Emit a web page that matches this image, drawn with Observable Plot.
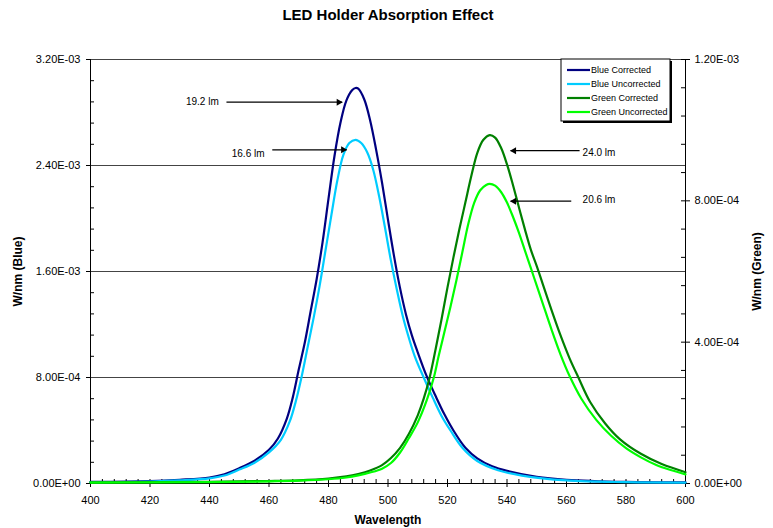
<!DOCTYPE html>
<html>
<head>
<meta charset="utf-8">
<script src="https://cdn.jsdelivr.net/npm/d3@7"></script>
<script src="https://cdn.jsdelivr.net/npm/@observablehq/plot@0.6"></script>
<style>
  body { margin: 0; background: #fff; }
  #chart svg { font-family: "Liberation Sans", Arial, sans-serif; }
</style>
</head>
<body>
<div id="chart"></div>
<script>
// ---------- data ----------
const seriesNames = ["Blue Corrected", "Blue Uncorrected", "Green Corrected", "Green Uncorrected"];
const seriesColors = ["#000080", "#00CCFF", "#008000", "#00FF00"];
const seriesAxis = ["left", "left", "right", "right"];

// Blue Corrected (W/nm, left axis)
const blueCorrWl  = [400, 420, 430, 440, 445, 450, 455, 460, 463, 466, 468, 470, 472, 474, 476, 478, 480, 482, 484, 486, 488, 489.1, 490, 492, 494, 496, 498, 500, 502, 504, 506, 508, 510, 513, 516, 519, 522, 526, 530, 535, 540, 550, 560, 580, 600];
const blueCorrVal = [1.2e-5, 1.8e-5, 2.8e-5, 4.5e-5, 7.0e-5, 1.15e-4, 1.7e-4, 2.55e-4, 3.4e-4, 4.9e-4, 6.5e-4, 8.6e-4, 1.06e-3, 1.30e-3, 1.54e-3, 1.82e-3, 2.15e-3, 2.47e-3, 2.72e-3, 2.89e-3, 2.97e-3, 2.985e-3, 2.98e-3, 2.90e-3, 2.74e-3, 2.52e-3, 2.27e-3, 1.99e-3, 1.72e-3, 1.48e-3, 1.28e-3, 1.12e-3, 9.9e-4, 8.1e-4, 6.6e-4, 5.2e-4, 4.0e-4, 2.7e-4, 1.9e-4, 1.3e-4, 9.5e-5, 5.0e-5, 2.8e-5, 1.2e-5, 8e-6];

// Blue Uncorrected (W/nm, left axis)
const blueUncWl  = [400, 420, 430, 440, 445, 450, 455, 460, 464, 467, 469, 471, 473, 475, 477, 479, 481, 483, 485, 487, 489.1, 491, 493, 495, 497, 499, 501, 503, 505, 507, 509, 512, 515, 518, 521, 525, 530, 537, 545, 560, 580, 600];
const blueUncVal = [1.0e-5, 1.5e-5, 2.3e-5, 3.8e-5, 6.0e-5, 1.05e-4, 1.55e-4, 2.35e-4, 3.3e-4, 4.7e-4, 6.2e-4, 8.1e-4, 1.03e-3, 1.25e-3, 1.49e-3, 1.76e-3, 2.03e-3, 2.29e-3, 2.48e-3, 2.57e-3, 2.594e-3, 2.57e-3, 2.50e-3, 2.37e-3, 2.17e-3, 1.93e-3, 1.68e-3, 1.46e-3, 1.26e-3, 1.10e-3, 9.6e-4, 8.0e-4, 6.5e-4, 5.1e-4, 4.0e-4, 2.7e-4, 1.7e-4, 1.0e-4, 6.0e-5, 2.3e-5, 1.0e-5, 7e-6];

// Green Corrected (W/nm, right axis)
const greenCorrWl  = [400, 440, 460, 470, 480, 486, 490, 494, 498, 501, 504, 507, 510, 512, 514, 516, 518, 520, 522, 524, 526, 528, 530, 532, 534.2, 536, 538, 540, 542, 544, 546, 548, 550, 552, 555, 558, 561, 564, 568, 573, 578, 585, 592, 600];
const greenCorrVal = [3e-6, 5e-6, 7e-6, 9e-6, 1.4e-5, 2.0e-5, 2.7e-5, 3.7e-5, 5.2e-5, 7.2e-5, 1.0e-4, 1.4e-4, 1.93e-4, 2.4e-4, 3.0e-4, 3.8e-4, 4.65e-4, 5.55e-4, 6.4e-4, 7.2e-4, 7.95e-4, 8.7e-4, 9.35e-4, 9.72e-4, 9.86e-4, 9.79e-4, 9.5e-4, 9.03e-4, 8.45e-4, 7.82e-4, 7.2e-4, 6.62e-4, 6.15e-4, 5.65e-4, 4.9e-4, 4.19e-4, 3.55e-4, 3.0e-4, 2.3e-4, 1.7e-4, 1.25e-4, 8.4e-5, 5.5e-5, 3.2e-5];

// Green Uncorrected (W/nm, right axis)
const greenUncWl  = [400, 440, 460, 470, 480, 486, 490, 494, 498, 501, 504, 507, 510, 513, 515.4, 517, 519, 521, 523, 525, 527, 529, 531, 533, 534.2, 536, 538, 540, 542, 544, 546, 548, 550, 552, 555, 558, 561, 565, 570, 575, 580, 585, 590, 595, 600];
const greenUncVal = [2.5e-6, 4e-6, 6e-6, 8e-6, 1.2e-5, 1.7e-5, 2.3e-5, 3.1e-5, 4.2e-5, 5.8e-5, 8.7e-5, 1.28e-4, 1.73e-4, 2.35e-4, 3.0e-4, 3.6e-4, 4.3e-4, 5.0e-4, 5.75e-4, 6.55e-4, 7.35e-4, 7.95e-4, 8.3e-4, 8.45e-4, 8.48e-4, 8.43e-4, 8.25e-4, 7.95e-4, 7.55e-4, 7.1e-4, 6.6e-4, 6.1e-4, 5.6e-4, 5.1e-4, 4.35e-4, 3.65e-4, 3.05e-4, 2.4e-4, 1.8e-4, 1.35e-4, 1.0e-4, 7.4e-5, 5.3e-5, 3.8e-5, 2.6e-5];

// axes
const xTicks = [400, 420, 440, 460, 480, 500, 520, 540, 560, 580, 600];
const leftTicks = [0, 8.0e-4, 1.6e-3, 2.4e-3, 3.2e-3];
const rightTicks = [0, 4.0e-4, 8.0e-4, 1.2e-3];
const leftMax = 3.2e-3, rightMax = 1.2e-3;

// annotations (lumens)
const annLabels   = ["19.2 lm", "16.6 lm", "24.0 lm", "20.6 lm"];
const annAxis     = ["left", "left", "right", "right"];
const annTipWl    = [484.6, 486.1, 541.2, 541.2];
const annTailWl   = [445.7, 461.1, 564.4, 561.6];
const annArrowVal = [2.878e-3, 2.518e-3, 9.42e-4, 7.99e-4];
const annTextWl   = [443.1, 458.5, 565.4, 565.4];
const annTextVal  = [2.883e-3, 2.49e-3, 9.36e-4, 8.04e-4];

// ---------- build ----------
const ratio = leftMax / rightMax;              // right-axis unit -> left-axis unit
const toLeft = (v, axis) => axis === "left" ? v : v * ratio;

const seriesWl = [blueCorrWl, blueUncWl, greenCorrWl, greenUncWl];
const seriesVal = [blueCorrVal, blueUncVal, greenCorrVal, greenUncVal];
const seriesRows = seriesNames.map((name, s) =>
  seriesWl[s].map((w, i) => ({series: name, wl: w, y: toLeft(seriesVal[s][i], seriesAxis[s])})));

const annotations = annLabels.map((label, i) => ({
  label, tip: annTipWl[i], tail: annTailWl[i],
  y: toLeft(annArrowVal[i], annAxis[i]),
  tx: annTextWl[i], ty: toLeft(annTextVal[i], annAxis[i]),
  right: annTipWl[i] > annTailWl[i]
}));
const annR = annotations.filter(d => d.right);
const annL = annotations.filter(d => !d.right);

const xMinor = d3.range(400, 601, 4).filter(v => v % 20 !== 0);
const leftMinor = d3.range(0, 21).filter(i => i % 5 !== 0).map(i => i * 1.6e-4);
const rightMinor = d3.range(0, 16).filter(i => i % 5 !== 0).map(i => i * 8e-5 * ratio);

function fmtE(v) {
  if (Math.abs(v) < 1e-15) return "0.00E+00";
  v = +v.toPrecision(10);
  let e = Math.floor(Math.log10(Math.abs(v)));
  let m = v / Math.pow(10, e);
  if (+m.toFixed(2) >= 10) { m /= 10; e += 1; }
  return m.toFixed(2) + "E" + (e < 0 ? "-" : "+") + String(Math.abs(e)).padStart(2, "0");
}

const W = 773, H = 528, mL = 90, mR = 88, mT = 59, mB = 45;
const plotW = W - mL - mR, plotH = H - mT - mB;

const chart = Plot.plot({
  width: W, height: H,
  marginLeft: mL, marginRight: mR, marginTop: mT, marginBottom: mB,
  x: {domain: [400, 600]},
  y: {domain: [0, leftMax]},
  style: {fontFamily: "Liberation Sans, Arial, sans-serif", fontSize: "11px", color: "black", background: "white"},
  marks: [
    Plot.gridY(leftTicks.filter(d => d > 0), {stroke: "#444", strokeOpacity: 1, strokeWidth: 1}),
    // axis lines
    Plot.ruleY([0], {stroke: "black", strokeWidth: 1}),
    Plot.ruleX([400, 600], {stroke: "black", strokeWidth: 1}),
    // minor & inner ticks
    Plot.tickX(xMinor, {x: d => d, insetTop: plotH - 4, stroke: "black"}),
    Plot.tickX(xTicks, {x: d => d, insetTop: plotH - 4, stroke: "black"}),
    Plot.tickY(leftMinor, {y: d => d, insetRight: plotW - 4, stroke: "black"}),
    Plot.tickY(rightMinor, {y: d => d, insetLeft: plotW - 4, stroke: "black"}),
    Plot.tickY(rightTicks.map(d => d * ratio), {y: d => d, insetLeft: plotW - 4, stroke: "black"}),
    // axes
    Plot.axisX({ticks: xTicks, tickSize: 4, tickPadding: 9, tickFormat: d => String(d), label: null, fontSize: 11}),
    Plot.axisY({anchor: "left", ticks: leftTicks, tickSize: 4, tickPadding: 6, tickFormat: fmtE, label: null, fontSize: 11}),
    Plot.axisY({anchor: "right", ticks: rightTicks.map(d => d * ratio), tickSize: 4, tickPadding: 5, tickFormat: d => fmtE(d / ratio), label: null, fontSize: 11}),
    // series
    ...seriesRows.map((rows, s) => Plot.line(rows, {x: "wl", y: "y", stroke: seriesColors[s], strokeWidth: 2.2, curve: "catmull-rom"})),
    // annotations
    Plot.link(annotations, {x1: "tail", x2: "tip", y1: "y", y2: "y", stroke: "black", strokeWidth: 1.2}),
    Plot.dot(annR, {x: "tip", y: "y", symbol: "triangle", r: 2.6, fill: "black", stroke: "none", rotate: 90, dx: -3.5}),
    Plot.dot(annL, {x: "tip", y: "y", symbol: "triangle", r: 2.6, fill: "black", stroke: "none", rotate: -90, dx: 3.5}),
    Plot.text(annR, {x: "tx", y: "ty", text: "label", textAnchor: "end", fontSize: 10, fill: "black"}),
    Plot.text(annL, {x: "tx", y: "ty", text: "label", textAnchor: "start", fontSize: 10, fill: "black"}),
    // titles
    Plot.text(["LED Holder Absorption Effect"], {text: d => d, frameAnchor: "top", lineAnchor: "middle", textAnchor: "middle", dy: -44, fontWeight: "bold", fontSize: 15, fill: "black"}),
    Plot.text(["Wavelength"], {text: d => d, frameAnchor: "bottom", lineAnchor: "middle", textAnchor: "middle", dy: 37, fontWeight: "bold", fontSize: 12, fill: "black"}),
    Plot.text(["W/nm (Blue)"], {text: d => d, frameAnchor: "left", lineAnchor: "middle", textAnchor: "middle", rotate: -90, dx: -72, fontWeight: "bold", fontSize: 12, fill: "black"}),
    Plot.text(["W/nm (Green)"], {text: d => d, frameAnchor: "right", lineAnchor: "middle", textAnchor: "middle", rotate: -90, dx: 72, fontWeight: "bold", fontSize: 12, fill: "black"})
  ]
});

document.getElementById("chart").appendChild(chart);

// legend box (top right, Excel style with shadow)
const svg = d3.select(chart);
const lg = svg.append("g").attr("transform", "translate(561,59)");
const lw = 109, lh = 62;
lg.append("rect").attr("x", 2).attr("y", 2).attr("width", lw).attr("height", lh).attr("fill", "black");
lg.append("rect").attr("x", 0).attr("y", 0).attr("width", lw).attr("height", lh).attr("fill", "white").attr("stroke", "black").attr("stroke-width", 1);
seriesNames.forEach((name, i) => {
  const y = 11 + i * 14;
  lg.append("line").attr("x1", 6).attr("x2", 29).attr("y1", y).attr("y2", y)
    .attr("stroke", seriesColors[i]).attr("stroke-width", 2.2);
  lg.append("text").attr("x", 30).attr("y", y).attr("dy", "0.33em")
    .attr("text-anchor", "start").attr("font-size", 9).attr("fill", "black").text(name);
});
</script>
</body>
</html>
